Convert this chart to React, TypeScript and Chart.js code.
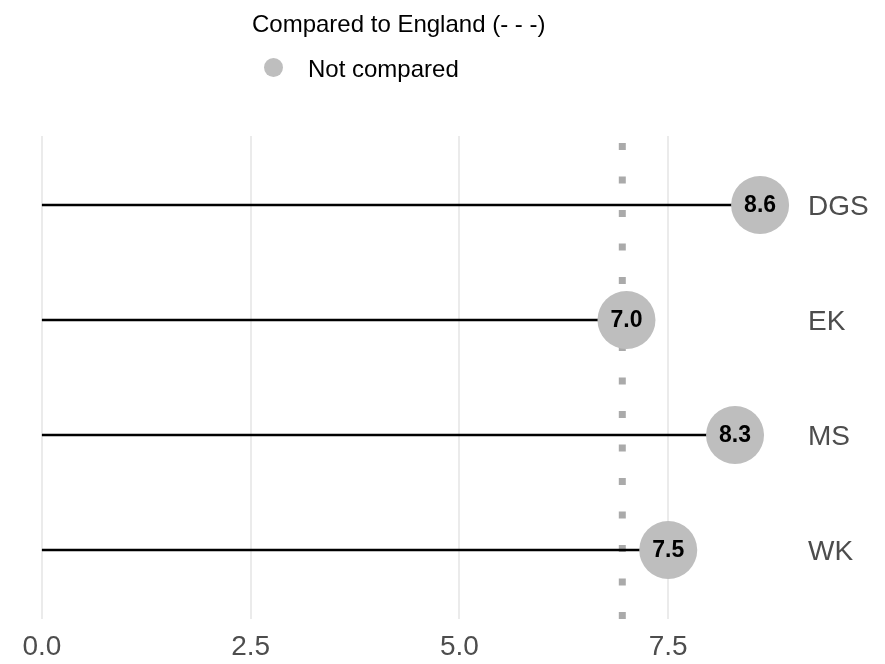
import React, { useEffect, useRef } from "react";
import { Chart, registerables } from "chart.js";

Chart.register(...registerables);

// ---- data ----
const categories = ["DGS", "EK", "MS", "WK"];
const values = [8.6, 7.0, 8.3, 7.5];
const englandValue = 6.95;
const xTickValues = [0, 2.5, 5, 7.5];
const legendTitle = "Compared to England (- - -)";
const legendItems = ["Not compared"];
const pointColors = ["#bebebe"];

const FONT = "'Liberation Sans', Arial, Helvetica, sans-serif";

export default function App() {
  const ref = useRef<HTMLCanvasElement>(null);

  useEffect(() => {
    const canvas = ref.current;
    if (!canvas) return;

    const valueLabels = {
      id: "valueLabels",
      afterDatasetsDraw(chart: any) {
        const idx = chart.data.datasets.findIndex((d: any) => d.label === "points");
        const meta = chart.getDatasetMeta(idx);
        const ctx = chart.ctx;
        ctx.save();
        ctx.font = `bold 23px ${FONT}`;
        ctx.fillStyle = "#000000";
        ctx.textAlign = "center";
        ctx.textBaseline = "middle";
        meta.data.forEach((el: any, i: number) => {
          ctx.fillText(values[i].toFixed(1), el.x, el.y + 1);
        });
        ctx.restore();
      },
    };

    const customLegend = {
      id: "customLegend",
      afterDraw(chart: any) {
        const ctx = chart.ctx;
        ctx.save();
        ctx.font = `24px ${FONT}`;
        ctx.fillStyle = "#000000";
        ctx.textAlign = "left";
        ctx.textBaseline = "alphabetic";
        ctx.fillText(legendTitle, 252, 32);
        ctx.beginPath();
        ctx.arc(273.5, 67.5, 9.5, 0, Math.PI * 2);
        ctx.fillStyle = pointColors[0];
        ctx.fill();
        ctx.fillStyle = "#000000";
        ctx.fillText(legendItems[0], 308, 77);
        ctx.restore();
      },
    };

    const lineDatasets = categories.map((c, i) => ({
      type: "line" as const,
      label: "stem-" + c,
      data: [
        { x: 0, y: i },
        { x: values[i], y: i },
      ],
      borderColor: "#000000",
      borderWidth: 2.3,
      pointRadius: 0,
      pointHoverRadius: 0,
      showLine: true,
      order: 1,
      clip: false as any,
    }));

    const chart = new Chart(canvas, {
      type: "scatter",
      data: {
        datasets: [
          {
            type: "line" as const,
            label: "england",
            data: [
              { x: englandValue, y: 3.6 },
              { x: englandValue, y: -0.6 },
            ],
            borderColor: "#aaaaaa",
            borderWidth: 7,
            borderDash: [7, 26.5],
            borderCapStyle: "butt",
            pointRadius: 0,
            pointHoverRadius: 0,
            showLine: true,
            order: 2,
          } as any,
          ...lineDatasets,
          {
            type: "scatter" as const,
            label: "points",
            data: categories.map((_, i) => ({ x: values[i], y: i })),
            backgroundColor: pointColors[0],
            borderWidth: 0,
            pointRadius: 29,
            pointHoverRadius: 29,
            order: 0,
            clip: false as any,
          } as any,
        ],
      },
      options: {
        animation: false,
        responsive: true,
        maintainAspectRatio: false,
        events: [],
        layout: { autoPadding: false, padding: { top: 136, left: 6, right: 0, bottom: 0 } },
        plugins: {
          legend: { display: false },
          tooltip: { enabled: false },
        },
        scales: {
          x: {
            type: "linear",
            min: -0.43,
            max: 9.03,
            afterBuildTicks: (scale: any) => {
              scale.ticks = xTickValues.map((v) => ({ value: v }));
            },
            afterFit: (scale: any) => {
              scale.height = 45;
              scale.paddingLeft = 0;
              scale.paddingRight = 0;
            },
            grid: {
              color: "#ebebeb",
              lineWidth: 2,
              drawTicks: false,
            },
            border: { display: false },
            ticks: {
              padding: 11,
              color: "#4d4d4d",
              font: { size: 28, family: FONT },
              callback: (v: any) => Number(v).toFixed(1),
              maxRotation: 0,
            },
          },
          y: {
            type: "linear",
            position: "right",
            reverse: true,
            min: -0.6,
            max: 3.6,
            afterBuildTicks: (scale: any) => {
              scale.ticks = categories.map((_, i) => ({ value: i }));
            },
            afterFit: (scale: any) => {
              scale.width = 89;
              scale.paddingTop = 0;
              scale.paddingBottom = 0;
            },
            grid: { display: false, drawTicks: false },
            border: { display: false },
            ticks: {
              padding: 12,
              labelOffset: 2,
              color: "#4d4d4d",
              font: { size: 28, family: FONT },
              callback: (v: any) => categories[Math.round(Number(v))] ?? "",
            },
          },
        },
      } as any,
      plugins: [valueLabels, customLegend],
    });

    return () => chart.destroy();
  }, []);

  return (
    <div style={{ position: "absolute", left: 0, top: 0, width: 885, height: 664, background: "#ffffff" }}>
      <canvas ref={ref} />
    </div>
  );
}
